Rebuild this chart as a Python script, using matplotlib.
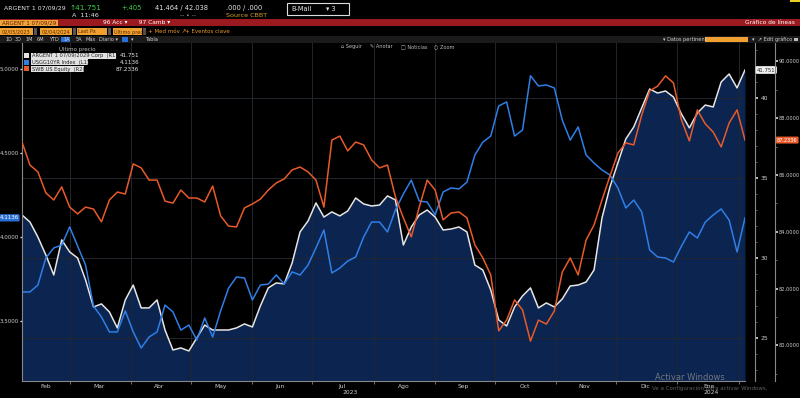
import matplotlib
matplotlib.use('Agg')
import matplotlib.pyplot as plt
import matplotlib.transforms as mtransforms
from matplotlib.patches import Rectangle
import pandas as pd

W, H = 800, 398

# ---------------- data ----------------
dates = pd.date_range('2023-02-05', periods=92, freq='4D')

argent = [32.69, 32.25, 31.31, 30.19, 28.94, 31.13, 30.38, 30.0, 28.63, 26.94,
          27.13, 26.63, 25.63, 27.38, 28.31, 26.88, 26.88, 27.38, 25.5, 24.25,
          24.38, 24.19, 25.0, 25.81, 25.5, 25.5, 25.5, 25.63, 25.88, 25.69,
          27.0, 28.13, 28.44, 28.38, 29.69, 31.63, 32.31, 33.44, 32.56, 32.88,
          32.63, 32.94, 33.75, 33.38, 33.25, 33.31, 33.88, 33.63, 30.81, 31.94,
          32.69, 33.0, 32.56, 31.75, 31.81, 31.94, 31.63, 29.56, 29.25, 28.0,
          26.13, 25.75, 26.94, 27.63, 28.13, 26.88, 27.19, 26.94, 27.44, 28.25,
          28.31, 28.5, 29.25, 32.5, 34.44, 35.94, 37.44, 38.19, 39.38, 40.56,
          40.31, 40.44, 40.06, 39.0, 38.13, 39.06, 39.56, 39.44, 41.0, 41.5,
          40.63, 41.75]

ust10 = [3.673, 3.673, 3.714, 3.875, 3.935, 3.952, 4.060, 3.946, 3.833, 3.589,
         3.524, 3.435, 3.435, 3.560, 3.435, 3.339, 3.405, 3.435, 3.595, 3.554,
         3.446, 3.476, 3.387, 3.518, 3.405, 3.560, 3.696, 3.762, 3.756, 3.625,
         3.714, 3.720, 3.774, 3.720, 3.792, 3.774, 3.833, 3.935, 4.042, 3.786,
         3.815, 3.857, 3.881, 4.000, 4.089, 4.089, 4.030, 4.161, 4.256, 4.339,
         4.214, 4.208, 4.131, 4.268, 4.292, 4.286, 4.327, 4.488, 4.565, 4.601,
         4.780, 4.804, 4.601, 4.637, 4.960, 4.899, 4.905, 4.887, 4.696, 4.577,
         4.655, 4.488, 4.440, 4.399, 4.369, 4.292, 4.173, 4.220, 4.149, 3.923,
         3.881, 3.875, 3.851, 3.946, 4.030, 3.994, 4.089, 4.131, 4.167, 4.101,
         3.911, 4.114]

swb = [87.16, 86.35, 86.11, 85.37, 85.12, 85.58, 84.87, 84.63, 84.87, 84.80,
       84.35, 85.12, 85.40, 85.33, 86.39, 86.25, 85.82, 85.82, 85.08, 85.01,
       85.47, 85.19, 85.19, 85.05, 85.61, 84.56, 84.20, 84.17, 84.84, 84.98,
       85.15, 85.47, 85.72, 85.86, 86.18, 86.28, 86.11, 85.82, 84.87, 87.23,
       87.37, 86.85, 87.16, 87.06, 86.53, 86.25, 86.35, 85.23, 84.49, 83.82,
       84.87, 85.82, 85.47, 84.42, 84.66, 84.70, 84.49, 83.54, 83.08, 82.48,
       80.51, 80.89, 81.60, 81.25, 80.15, 80.89, 80.75, 81.21, 82.58, 83.08,
       82.48, 83.71, 84.24, 85.12, 85.96, 86.77, 87.13, 87.06, 88.11, 88.96,
       89.13, 89.49, 89.24, 87.94, 87.20, 88.29, 87.80, 87.51, 86.99, 87.83,
       88.29, 87.23]

series_names = ['ARGENT 1 07/09/2029 Corp  (R1)', 'USGG10YR Index  (L1)', 'SWB US Equity  (R2)']
last_values = ['41.751', '4.1136', '87.2336']

month_starts = pd.date_range('2023-03-01', '2024-02-01', freq='MS')
month_label_dates = pd.to_datetime(['2023-02-17', '2023-03-16', '2023-04-15', '2023-05-16',
                                    '2023-06-15', '2023-07-16', '2023-08-16', '2023-09-15',
                                    '2023-10-16', '2023-11-15', '2023-12-16', '2024-01-17'])
month_labels = ['Feb', 'Mar', 'Abr', 'May', 'Jun', 'Jul', 'Ago', 'Sep', 'Oct', 'Nov', 'Dic', 'Ene']
year_label_dates = pd.to_datetime(['2023-07-20', '2024-01-18'])
year_labels = ['2023', '2024']

r1_ticks = [25, 30, 35, 40]
l1_ticks = [3.5, 4.0, 4.5, 5.0]
r2_ticks = [80, 82, 84, 86, 88, 90]

WHITE = '#e6e6e6'
BLUE = '#2f7fe6'
ORANGE = '#e85a2a'
NAVY = '#0b2450'
TXT = '#cfcfcf'
GRID = '#22262e'

# ---------------- figure ----------------
fig = plt.figure(figsize=(W / 100, H / 100), dpi=100, facecolor='black')


def ftxt(x, y, s, **kw):
    kw.setdefault('va', 'center')
    kw.setdefault('color', TXT)
    kw.setdefault('fontsize', 4.5)
    fig.text(x / W, 1 - y / H, s, **kw)


def frect(x0, y0, x1, y1, **kw):
    fig.add_artist(Rectangle((x0 / W, 1 - y1 / H), (x1 - x0) / W, (y1 - y0) / H,
                             transform=fig.transFigure, **kw))


# header row 1
frect(790, 0, 800, 2, color='#e8d020', lw=0)
ftxt(4, 8, 'ARGENT 1 07/09/29', color=WHITE, fontsize=4.5)
ftxt(70, 8, '\u219141.751', color='#3fd04a', fontsize=5.3)
ftxt(121, 8, '+.405', color='#3fd04a', fontsize=4.8)
ftxt(155, 8, '41.464 / 42.038', color=WHITE, fontsize=4.8)
ftxt(226, 8, '.000 / .000', color=WHITE, fontsize=4.8)
frect(287, 3, 349, 15, fill=False, edgecolor='#dddddd', lw=0.8)
ftxt(291, 9, 'B-Mail', color=WHITE, fontsize=4.8)
ftxt(326, 9, '\u25be 3', color=WHITE, fontsize=4.8)
ftxt(72, 15.5, 'A  11:46', color=WHITE, fontsize=4.6)
ftxt(180, 15.5, '-- \u2022 --', color='#aaaaaa', fontsize=4.3)
ftxt(226, 15.5, 'Source CBBT', color='#d6a128', fontsize=4.6)

# red bar
frect(0, 19, 800, 26, color='#9a1a1f', lw=0)
frect(0, 19.5, 58, 25.5, color='#f0a33a', lw=0)
ftxt(2, 22.6, 'ARGENT 1 07/09/29', color='#5a1a00', fontsize=4)
ftxt(103, 22.6, '96 Acc \u25be      97 Camb \u25be', color='white', fontsize=4.2)
ftxt(795, 22.6, 'Gr\u00e1fico de l\u00edneas', color='white', fontsize=4.2, ha='right')

# row 3 (date / field selectors)
for x0, x1, s in [(0, 33, '02/05/2023'), (40, 72, '02/04/2024'),
                  (77, 107, 'Last Px'), (113, 142, '\u00daltimo precio')]:
    frect(x0, 28, x1, 35, color='#f0a030', lw=0)
    ftxt(x0 + 1.5, 31.6, s, color='#5a2a00', fontsize=3.6)
    frect(x1 + 0.5, 28, x1 + 4, 35, color='#555555', lw=0)
ftxt(148, 31.6, '+ Med m\u00f3v \u2197', color='#e89a30', fontsize=4)
ftxt(185, 31.6, '+ Eventos clave', color='#e89a30', fontsize=4)

# row 4 (toolbar)
frect(0, 36, 800, 42.5, color='#1a1a1a', lw=0)
frect(61, 36.5, 70, 42, color='#2a6fd6', lw=0)
for x, s in [(5, '1D'), (15, '3D'), (26, '1M'), (37, '6M'), (49, 'YTD'), (63, '1A'),
             (76, '5A'), (86, 'M\u00e1x'), (99, 'Diario \u25be'), (131, '\u25be'), (145, 'Tabla')]:
    ftxt(x, 39.3, s, color='#d0d0d0', fontsize=3.6)
frect(122, 37, 128, 41.5, color='#2a6fd6', lw=0)
ftxt(663, 39.3, '\u25be Datos pertinent', color='#d0d0d0', fontsize=3.6)
frect(705, 37, 748, 41.5, color='#f0a030', lw=0)
ftxt(752, 39.3, '\u25be  \u2197 Edit gr\u00e1fico', color='#d0d0d0', fontsize=3.6)
frect(794, 37.5, 798, 41, color='#bbbbbb', lw=0)

# row 5 (chart tools)
for x, s in [(341, '\u2302 Seguir'), (370, '\u270e Anotar'), (401, '\u25a1 Noticias'), (434, '\u25cb Zoom')]:
    ftxt(x, 46.5, s, color='#bbbbbb', fontsize=3.6)

# ---------------- plot axes ----------------
rect = [22 / W, 1 - 381 / H, 723 / W, (381 - 43) / H]
ax = fig.add_axes(rect)          # R1 : ARGENT bond
ax.set_facecolor('black')
axL = ax.twinx()                 # L1 : UST 10Y
axR2 = ax.twinx()                # R2 : equity

ax.set_xlim(pd.Timestamp('2023-02-05'), pd.Timestamp('2024-02-04'))
ax.set_ylim(22.3125, 43.4375)
axL.set_ylim(3.1429, 5.1548)
axR2.set_ylim(78.746, 90.648)

# grid
for d in month_starts:
    ax.axvline(d, color=GRID, lw=0.7, zorder=1.5)
for v in r1_ticks:
    ax.axhline(v, color=GRID, lw=0.7, zorder=1.5)

# series
ax.fill_between(dates, argent, 22.3125, color=NAVY, lw=0, zorder=1)
ax.plot(dates, argent, color=WHITE, lw=1.1, zorder=3)
axL.plot(dates, ust10, color=BLUE, lw=1.1)
axR2.plot(dates, swb, color=ORANGE, lw=1.1)

# spines
for a in (ax, axL, axR2):
    for s in a.spines.values():
        s.set_visible(False)
ax.spines['bottom'].set_visible(True)
ax.spines['bottom'].set_color('#888888')
ax.spines['bottom'].set_linewidth(0.8)
ax.spines['right'].set_visible(True)
ax.spines['right'].set_position(('outward', 7.2))
ax.spines['right'].set_color('#888888')
ax.spines['right'].set_linewidth(0.8)
axL.spines['left'].set_visible(True)
axL.spines['left'].set_color('#888888')
axL.spines['left'].set_linewidth(0.8)
axR2.spines['right'].set_visible(True)
axR2.spines['right'].set_position(('outward', 21.6))
axR2.spines['right'].set_color('#888888')
axR2.spines['right'].set_linewidth(0.8)

# x ticks
ax.set_xticks(month_starts)
ax.set_xticklabels([''] * len(month_starts))
ax.set_xticks(month_label_dates, minor=True)
ax.set_xticklabels(month_labels, minor=True)
ax.tick_params(axis='x', which='major', length=2, color='#888888', width=0.6)
ax.tick_params(axis='x', which='minor', length=0, labelsize=4.3, labelcolor=TXT, pad=2)
tr = mtransforms.blended_transform_factory(ax.transData, ax.transAxes)
for d, s in zip(year_label_dates, year_labels):
    ax.text(d, -0.034, s, transform=tr, ha='center', va='center', fontsize=4.3, color=TXT)

# y ticks
ax.yaxis.tick_right()
ax.set_yticks(r1_ticks)
ax.set_yticklabels([str(v) for v in r1_ticks])
ax.set_yticks(range(23, 44), minor=True)
ax.tick_params(axis='y', which='major', length=2.5, width=1.2, color='#dddddd', labelsize=4.3,
               labelcolor=TXT, pad=1.5)
ax.tick_params(axis='y', which='minor', length=1.2, width=0.5, color='#888888')

axL.yaxis.tick_left()
axL.set_yticks(l1_ticks)
axL.set_yticklabels(['%.4f' % v for v in l1_ticks])
axL.tick_params(axis='y', length=1.5, width=1, color='#dddddd', labelsize=4.0, labelcolor=TXT, pad=0.8)

axR2.set_yticks(r2_ticks)
axR2.set_yticklabels(['%.4f' % v for v in r2_ticks])
axR2.set_yticks([79, 81, 83, 85, 87, 89], minor=True)
axR2.tick_params(axis='y', which='major', length=1.8, width=1.2, color='#dddddd', labelsize=3.6,
                 labelcolor=TXT, pad=0.8)
axR2.tick_params(axis='y', which='minor', length=1.2, width=0.5, color='#888888')

# last value tags
ax.annotate(last_values[0], xy=(1, argent[-1]), xycoords=('axes fraction', 'data'),
            xytext=(8.6, 0), textcoords='offset points', ha='left', va='center',
            fontsize=3.9, color='#222222', annotation_clip=False,
            bbox=dict(boxstyle='round,pad=0.25', fc='#f0f0f0', ec='none'))
axR2.annotate(last_values[2], xy=(1, swb[-1]), xycoords=('axes fraction', 'data'),
              xytext=(23.0, 0), textcoords='offset points', ha='left', va='center',
              fontsize=3.6, color='white', annotation_clip=False,
              bbox=dict(boxstyle='round,pad=0.2', fc=ORANGE, ec='none'))
axL.annotate(last_values[1], xy=(0, ust10[-1]), xycoords=('axes fraction', 'data'),
             xytext=(-2.5, 0), textcoords='offset points', ha='right', va='center',
             fontsize=4.0, color='white', annotation_clip=False,
             bbox=dict(boxstyle='round,pad=0.2', fc='#2a6fd6', ec='none'))

# legend (Bloomberg style)
ftxt(77, 49.5, '\u00daltimo precio', color='#bbbbbb', fontsize=4, ha='center')
colors = [WHITE, BLUE, ORANGE]
box_ends = [116, 88, 84]
for k, (name, val, c, xe) in enumerate(zip(series_names, last_values, colors, box_ends)):
    yc = 55.5 + 6.7 * k
    frect(24, yc - 2.5, 29, yc + 2.5, color=c, lw=0)
    frect(31, yc - 3, xe, yc + 3, color='#e2e2e2', lw=0)
    ftxt(32.5, yc + 0.2, name, color='#222222', fontsize=3.7)
    ftxt(139, yc + 0.2, val, color=WHITE, fontsize=4.1, ha='right')

# OS watermark
ftxt(655, 377.5, 'Activar Windows', color='#8a8a8a', fontsize=6, alpha=0.8)
ftxt(652, 388.5, 'Ve a Configuraci\u00f3n para activar Windows.', color='#8a8a8a', fontsize=4.0, alpha=0.7)

fig.savefig('out.png', dpi=100, facecolor='black')
